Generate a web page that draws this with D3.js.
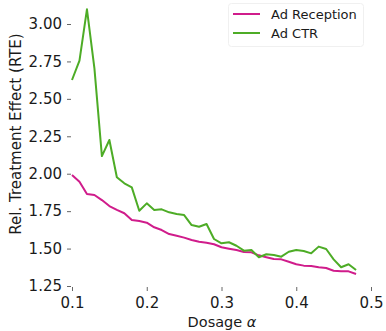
<!DOCTYPE html>
<html>
<head>
<meta charset="utf-8">
<script src="https://cdn.jsdelivr.net/npm/d3@7"></script>
<style>
  body { margin: 0; background: #fff; }
  text { font-family: "DejaVu Sans", sans-serif; fill: #1a1a1a; }
</style>
</head>
<body>
<div id="chart"></div>
<script>
var dosage = [0.10,0.11,0.12,0.13,0.14,0.15,0.16,0.17,0.18,0.19,0.20,0.21,0.22,0.23,0.24,0.25,0.26,0.27,0.28,0.29,
              0.30,0.31,0.32,0.33,0.34,0.35,0.36,0.37,0.38,0.39,0.40,0.41,0.42,0.43,0.44,0.45,0.46,0.47,0.48]
var adReception = [1.991,1.947,1.865,1.858,1.824,1.784,1.758,1.736,1.691,1.684,1.673,1.642,1.624,1.597,1.586,1.573,1.557,1.546,1.539,1.529,
                   1.509,1.499,1.490,1.477,1.475,1.455,1.442,1.430,1.428,1.412,1.395,1.386,1.384,1.375,1.370,1.352,1.348,1.348,1.330]
var adCTR = [2.626,2.755,3.098,2.704,2.118,2.225,1.976,1.936,1.909,1.753,1.802,1.758,1.762,1.742,1.731,1.724,1.657,1.646,1.664,1.564,
             1.535,1.542,1.519,1.486,1.490,1.442,1.462,1.457,1.446,1.479,1.490,1.484,1.468,1.513,1.497,1.428,1.375,1.395,1.357]
var xTicks = [0.1,0.2,0.3,0.4,0.5]
var yTicks = [1.25,1.50,1.75,2.00,2.25,2.50,2.75,3.00]
var seriesNames = ["Ad Reception","Ad CTR"]
var colors = ["#d01c8b","#4dac26"]

var series = [adReception, adCTR]
var svg = d3.select("#chart").append("svg").attr("width",386).attr("height",331)

var x = d3.scaleLinear().domain([0.1,0.5]).range([72,371])
var y = d3.scaleLinear().domain([1.25,3.0]).range([286,24])

// axes without spines, only ticks
var xAxis = svg.append("g").attr("transform","translate(0,287)")
  .call(d3.axisBottom(x).tickValues(xTicks).tickSize(4).tickPadding(6).tickFormat(d3.format(".1f")))
var yAxis = svg.append("g").attr("transform","translate(71,0)")
  .call(d3.axisLeft(y).tickValues(yTicks).tickSize(4).tickPadding(5).tickFormat(d3.format(".2f")))
svg.selectAll(".domain").remove()
svg.selectAll(".tick line").attr("stroke","#666")
svg.selectAll(".tick text").style("font-size","15px").attr("fill","#1a1a1a")

var line = d3.line().x((d,i) => x(dosage[i])).y(d => y(d))
series.forEach((s,k) => {
  svg.append("path").datum(s).attr("d",line).attr("fill","none")
    .attr("stroke",colors[k]).attr("stroke-width",2).attr("stroke-linejoin","round")
})

svg.append("text").attr("x",222).attr("y",327).attr("text-anchor","middle").style("font-size","14.5px")
  .text("Dosage ").append("tspan").style("font-style","italic").text("α")
svg.append("text").attr("transform","translate(21,134) rotate(-90)").attr("text-anchor","middle")
  .style("font-size","15px").text("Rel. Treatment Effect (RTE)")

// legend
var lg = svg.append("g")
lg.append("rect").attr("x",228.5).attr("y",3.5).attr("width",135).attr("height",43).attr("rx",3)
  .attr("fill","#fff").attr("stroke","#f0f0f0")
seriesNames.forEach((n,k) => {
  lg.append("line").attr("x1",233).attr("x2",260).attr("y1",14+k*19).attr("y2",14+k*19)
    .attr("stroke",colors[k]).attr("stroke-width",2)
  lg.append("text").attr("x",271).attr("y",19+k*19).style("font-size","13px").text(n)
})
</script>
</body>
</html>
